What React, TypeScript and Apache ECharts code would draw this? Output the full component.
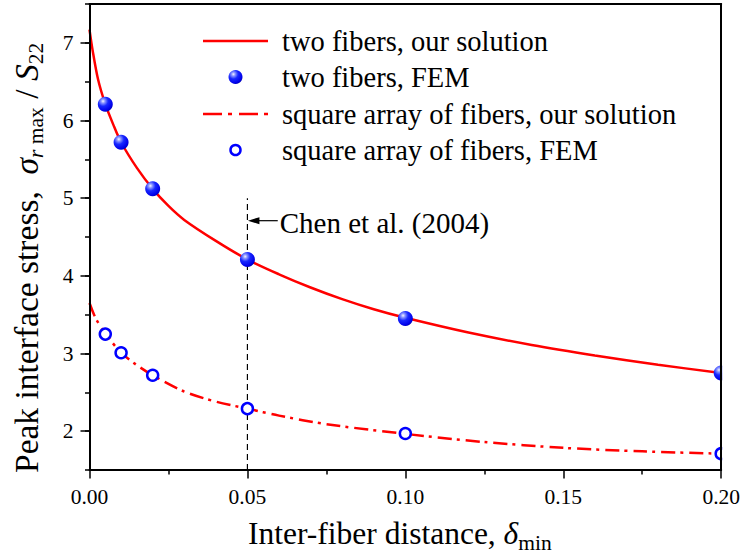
import React, { useEffect, useRef } from 'react';
import * as echarts from 'echarts';

// ---- data ----
const xTicks = [0, 0.05, 0.1, 0.15, 0.2];
const yTicks = [2, 3, 4, 5, 6, 7];

const femX = [0.005, 0.01, 0.02, 0.05, 0.1, 0.2];
const twoFibersFEM = [6.21, 5.72, 5.12, 4.21, 3.45, 2.75];
const squareFEM = [3.25, 3.01, 2.72, 2.29, 1.97, 1.71];

const twoSolX = [0, 0.001, 0.0027, 0.005, 0.0075, 0.01, 0.015, 0.02, 0.025, 0.03, 0.04, 0.05, 0.06, 0.07, 0.08, 0.09, 0.1, 0.12, 0.14, 0.16, 0.18, 0.2];
const twoSolY = [7.17, 6.9, 6.53, 6.21, 5.95, 5.72, 5.39, 5.12, 4.9, 4.72, 4.45, 4.21, 4.02, 3.85, 3.7, 3.57, 3.46, 3.27, 3.11, 2.975, 2.855, 2.75];

const sqSolX = [0, 0.002, 0.005, 0.01, 0.015, 0.02, 0.03, 0.04, 0.05, 0.06, 0.075, 0.1, 0.125, 0.15, 0.175, 0.2];
const sqSolY = [3.65, 3.45, 3.26, 3.01, 2.85, 2.72, 2.51, 2.38, 2.29, 2.2, 2.09, 1.965, 1.86, 1.785, 1.74, 1.71];

const refX = 0.05;
const refLineY = [1.5, 5.0];
const arrowY = 4.71;
const arrowFromX = 0.0596;
const refLabel = 'Chen et al. (2004)';

const legendNames = [
  'two fibers, our solution',
  'two fibers, FEM',
  'square array of fibers, our solution',
  'square array of fibers, FEM',
];

const FONT = 'Liberation Serif';
const RED = '#ff0000';
const BLUE = '#0000ff';

const zip = (xs: number[], ys: number[]) => xs.map((x, i) => [x, ys[i]]);

const ballGradient = () =>
  new echarts.graphic.RadialGradient(0.35, 0.3, 0.75, [
    { offset: 0, color: '#f4f4ff' },
    { offset: 0.18, color: '#8a95ff' },
    { offset: 0.45, color: '#1828ff' },
    { offset: 0.85, color: '#0000ea' },
    { offset: 1, color: '#0000b0' },
  ]);

export default function App() {
  const ref = useRef<HTMLDivElement>(null);

  useEffect(() => {
    if (!ref.current) return;
    const chart = echarts.init(ref.current, undefined, { renderer: 'svg' });

    const axisLineStyle = { color: '#000', width: 2 };
    const labelStyle = { color: '#000', fontFamily: FONT, fontSize: 21.5 };

    const option: any = {
      animation: false,
      backgroundColor: '#fff',
      grid: { left: 89.5, right: 20, top: 4, bottom: 88, containLabel: false },
      xAxis: [
        {
          type: 'value',
          min: 0,
          max: 0.2,
          interval: 0.05,
          position: 'bottom',
          z: 10,
          axisLine: { show: true, onZero: false, lineStyle: axisLineStyle },
          axisTick: { show: true, length: 8.5, lineStyle: { color: '#000', width: 1.5 } },
          minorTick: { show: true, splitNumber: 2, length: 4.5, lineStyle: { color: '#000', width: 1.5 } },
          axisLabel: {
            ...labelStyle,
            margin: 16,
            customValues: xTicks,
            formatter: (v: number) => v.toFixed(2),
          },
          splitLine: { show: false },
          minorSplitLine: { show: false },
        },
        {
          type: 'value',
          min: 0,
          max: 0.2,
          position: 'top',
          z: 10,
          axisLine: { show: true, onZero: false, lineStyle: axisLineStyle },
          axisTick: { show: false },
          axisLabel: { show: false },
          splitLine: { show: false },
        },
      ],
      yAxis: [
        {
          type: 'value',
          min: 1.5,
          max: 7.5,
          interval: 0.5,
          position: 'left',
          z: 10,
          axisLine: { show: true, onZero: false, lineStyle: axisLineStyle },
          axisTick: { show: true, length: 9, customValues: yTicks, lineStyle: { color: '#000', width: 1.5 } },
          axisLabel: {
            ...labelStyle,
            margin: 16,
            customValues: yTicks,
            formatter: (v: number) => (Math.abs(v - Math.round(v)) < 1e-6 ? String(Math.round(v)) : ''),
          },
          splitLine: { show: false },
        },
        {
          type: 'value',
          min: 1.5,
          max: 7.5,
          interval: 0.5,
          position: 'left',
          z: 10,
          axisLine: { show: false },
          axisTick: { show: true, length: 4.5, lineStyle: { color: '#000', width: 1.5 } },
          axisLabel: { show: false },
          splitLine: { show: false },
        },
        {
          type: 'value',
          min: 1.5,
          max: 7.5,
          position: 'right',
          z: 10,
          axisLine: { show: true, onZero: false, lineStyle: axisLineStyle },
          axisTick: { show: false },
          axisLabel: { show: false },
          splitLine: { show: false },
        },
      ],
      series: [
        {
          name: 'reference line',
          type: 'line',
          data: refLineY.map((y) => [refX, y]),
          symbol: 'none',
          silent: true,
          lineStyle: { color: '#000', width: 1.2, type: [6, 4] },
          z: 1,
        },
        {
          name: legendNames[0],
          type: 'line',
          data: zip(twoSolX, twoSolY),
          smooth: 0.3,
          symbol: 'none',
          lineStyle: { color: RED, width: 2.5 },
          z: 2,
        },
        {
          name: legendNames[2],
          type: 'line',
          data: zip(sqSolX, sqSolY),
          smooth: 0.3,
          symbol: 'none',
          lineStyle: { color: RED, width: 2.5, type: [14, 5, 3, 6] },
          z: 2,
        },
        {
          name: legendNames[1],
          type: 'scatter',
          data: zip(femX, twoFibersFEM),
          symbol: 'circle',
          symbolSize: 15,
          clip: true,
          itemStyle: { color: ballGradient(), opacity: 1 },
          z: 3,
        },
        {
          name: legendNames[3],
          type: 'scatter',
          data: zip(femX, squareFEM),
          symbol: 'circle',
          symbolSize: 11,
          clip: true,
          itemStyle: { color: '#fff', borderColor: BLUE, borderWidth: 2.5, opacity: 1 },
          z: 3,
        },
      ],
    };

    chart.setOption(option);

    const a0 = chart.convertToPixel({ xAxisIndex: 0, yAxisIndex: 0 }, [arrowFromX, arrowY]) as number[];
    const a1 = chart.convertToPixel({ xAxisIndex: 0, yAxisIndex: 0 }, [refX, arrowY]) as number[];
    const frameBR = chart.convertToPixel({ xAxisIndex: 0, yAxisIndex: 0 }, [0.2, 1.5]) as number[];

    const mainTok = (size: number, italic = false, lh = 40) => ({
      fontFamily: FONT,
      fontSize: size,
      fontStyle: italic ? 'italic' : 'normal',
      lineHeight: lh,
      verticalAlign: 'middle',
      fill: '#000',
      color: '#000',
    });
    const subTok = (size: number, italic = false) => ({
      fontFamily: FONT,
      fontSize: size,
      fontStyle: italic ? 'italic' : 'normal',
      lineHeight: 24,
      verticalAlign: 'bottom',
      fill: '#000',
      color: '#000',
    });

    const legendX0 = 203;
    const legendX1 = 268;
    const legendCx = (legendX0 + legendX1) / 2;
    const legendTextX = 282;
    const rows = [41, 77, 114, 150];
    const legendText = (i: number) => ({
      type: 'text',
      x: legendTextX,
      y: rows[i],
      silent: true,
      style: {
        text: `{t|${legendNames[i]}}`,
        align: 'left',
        verticalAlign: 'middle',
        rich: { t: mainTok(28.5, false, 34) },
      },
    });

    const graphic: any[] = [
      // mask the part of the markers that overflows the right frame (the reference clips them)
      {
        type: 'rect',
        silent: true,
        z: 5,
        shape: { x: frameBR[0] + 1, y: 0, width: 40, height: frameBR[1] - 1 },
        style: { fill: '#fff' },
      },
      // legend
      {
        type: 'line',
        silent: true,
        shape: { x1: legendX0, y1: rows[0], x2: legendX1, y2: rows[0] },
        style: { stroke: RED, lineWidth: 2.5 },
      },
      {
        type: 'circle',
        silent: true,
        shape: { cx: legendCx, cy: rows[1], r: 7 },
        style: { fill: ballGradient() },
      },
      {
        type: 'line',
        silent: true,
        shape: { x1: legendX0, y1: rows[2], x2: legendX1, y2: rows[2] },
        style: { stroke: RED, lineWidth: 2.5, lineDash: [19, 6, 4, 7] },
      },
      {
        type: 'circle',
        silent: true,
        shape: { cx: legendCx, cy: rows[3], r: 5 },
        style: { fill: '#fff', stroke: BLUE, lineWidth: 2.5 },
      },
      legendText(0),
      legendText(1),
      legendText(2),
      legendText(3),
      // annotation arrow
      {
        type: 'line',
        silent: true,
        shape: { x1: a0[0], y1: a0[1], x2: a1[0] + 10, y2: a1[1] },
        style: { stroke: '#000', lineWidth: 1.2 },
      },
      {
        type: 'polygon',
        silent: true,
        shape: {
          points: [
            [a1[0] + 0.5, a1[1]],
            [a1[0] + 12, a1[1] - 3.5],
            [a1[0] + 12, a1[1] + 3.5],
          ],
        },
        style: { fill: '#000' },
      },
      {
        type: 'text',
        silent: true,
        x: a0[0] + 2,
        y: a0[1] + 2.5,
        style: {
          text: `{t|${refLabel}}`,
          align: 'left',
          verticalAlign: 'middle',
          rich: { t: mainTok(29, false, 34) },
        },
      },
      // x axis title
      {
        type: 'text',
        silent: true,
        x: 248,
        y: 533.5,
        style: {
          text: '{m|Inter-fiber distance, }{i|δ}{s|min}',
          align: 'left',
          verticalAlign: 'middle',
          rich: {
            m: mainTok(31.5),
            i: mainTok(31.5, true),
            s: subTok(21.5),
          },
        },
      },
      // y axis title
      {
        type: 'text',
        silent: true,
        x: 26.5,
        y: 473,
        rotation: Math.PI / 2,
        style: {
          text: '{m|Peak interface stress,  }{i|σ}{si|r}{s| max}{m| / }{i|S}{s|22}',
          align: 'left',
          verticalAlign: 'middle',
          rich: {
            m: mainTok(33.5),
            i: mainTok(33.5, true),
            s: subTok(21.5),
            si: subTok(21.5, true),
          },
        },
      },
    ];

    chart.setOption({ graphic });

    return () => {
      chart.dispose();
    };
  }, []);

  return (
    <div
      ref={ref}
      style={{ position: 'fixed', left: 0, top: 0, width: 743, height: 558, background: '#fff' }}
    />
  );
}
